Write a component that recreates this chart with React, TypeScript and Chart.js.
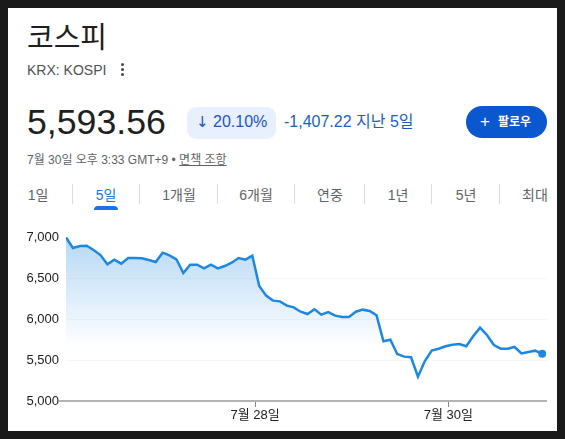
import React, { useEffect, useRef } from "react";
import { Chart, registerables } from "chart.js";

Chart.register(...registerables);

const prices = [
  6996, 6866, 6890, 6894, 6841, 6780, 6667, 6724, 6675, 6744, 6744, 6740, 6720, 6695, 6809, 6776, 6728, 6561,
  6663, 6663, 6618, 6663, 6618, 6646, 6687, 6744, 6724, 6772, 6402, 6285, 6224, 6215, 6163, 6142, 6089, 6061,
  6118, 6053, 6085, 6041, 6024, 6024, 6089, 6114, 6098, 6045, 5728, 5748, 5573, 5541, 5533, 5297, 5488, 5614,
  5638, 5667, 5687, 5695, 5667, 5789, 5894, 5805, 5683, 5638, 5638, 5659, 5581, 5598, 5614, 5575,
];
const xTickPositions = [27.4, 55.4];
const xTickLabels = ["7월 28일", "7월 30일"];
const tabs = ["1일", "5일", "1개월", "6개월", "연중", "1년", "5년", "최대"];
const tabCenters = [38, 106, 179, 256, 330, 398, 466, 535];
const tabSeparators = [72, 139, 217, 294, 364, 431, 499];

const FONT = '"Liberation Sans", "Noto Sans CJK KR", sans-serif';

function text(
  content: React.ReactNode,
  left: number,
  centerY: number,
  size: number,
  color: string,
  extra: React.CSSProperties = {},
) {
  return (
    <div
      style={{
        position: "absolute",
        left,
        top: centerY - 20,
        height: 40,
        lineHeight: "40px",
        fontSize: size,
        color,
        whiteSpace: "nowrap",
        ...extra,
      }}
    >
      {content}
    </div>
  );
}

export default function App() {
  const ref = useRef<HTMLCanvasElement>(null);

  useEffect(() => {
    const canvas = ref.current!;
    const chart = new Chart(canvas, {
      type: "line",
      data: {
        datasets: [
          {
            data: prices.map((y, x) => ({ x, y })),
            borderColor: "#1e88e0",
            borderWidth: 2.5,
            tension: 0,
            fill: "start",
            backgroundColor: (c: any) => {
              const g = c.chart.ctx.createLinearGradient(0, 12, 0, 122);
              g.addColorStop(0, "rgba(30,136,229,0.33)");
              g.addColorStop(1, "rgba(30,136,229,0)");
              return g;
            },
            pointRadius: (c: any) => (c.dataIndex === prices.length - 1 ? 4 : 0),
            pointBackgroundColor: "#1e88e0",
            pointBorderWidth: 0,
          },
        ],
      },
      options: {
        responsive: false,
        animation: false,
        layout: { padding: { left: 0, right: 10, top: 12, bottom: 0 } },
        plugins: { legend: { display: false }, tooltip: { enabled: false } },
        scales: {
          x: {
            type: "linear",
            min: 0,
            max: 69.7,
            border: { display: false },
            grid: { drawOnChartArea: false, color: "#888888", tickLength: 6 },
            afterBuildTicks: (s: any) => {
              s.ticks = xTickPositions.map((value) => ({ value }));
            },
            afterFit: (s: any) => {
              s.height = 30;
            },
            ticks: {
              autoSkip: false,
              maxRotation: 0,
              padding: 1,
              color: "#202124",
              font: { family: FONT, size: 13 },
              callback: (v: any) => xTickLabels[xTickPositions.indexOf(v)],
            },
          },
          y: {
            min: 5000,
            max: 7000,
            border: { display: false },
            afterFit: (s: any) => {
              s.width = 58;
            },
            grid: {
              tickLength: 7,
              lineWidth: (c: any) => (c.tick.value === 5000 ? 2 : 1),
              color: (c: any) =>
                c.tick.value === 5000 ? "#b4b4b4" : c.tick.value === 7000 ? "rgba(0,0,0,0)" : "#f6f6f6",
              tickColor: (c: any) => (c.tick.value === 5000 ? "#b4b4b4" : "rgba(0,0,0,0)"),
            },
            ticks: {
              stepSize: 500,
              padding: 0,
              color: "#202124",
              font: { family: FONT, size: 13 },
              callback: (v: any) => Number(v).toLocaleString("en-US"),
            },
          },
        },
      },
    } as any);
    return () => chart.destroy();
  }, []);

  return (
    <div style={{ position: "fixed", inset: 0, background: "#1a1a1a", fontFamily: FONT, overflow: "hidden" }}>
      <div style={{ position: "absolute", left: 8, top: 8, width: 549, height: 423, background: "#ffffff" }} />
      {text("코스피", 27, 38, 29, "#1f1f1f")}
      {text("KRX: KOSPI", 27, 70, 14, "#4f5256")}
      {[64, 69, 74].map((y) => (
        <div
          key={y}
          style={{ position: "absolute", left: 120.5, top: y - 1, width: 3, height: 3, borderRadius: 2, background: "#444746" }}
        />
      ))}
      {text("5,593.56", 27, 122, 35.7, "#1f1f1f")}
      <div style={{ position: "absolute", left: 187, top: 107, width: 89, height: 32, borderRadius: 9, background: "#e8f0fe" }} />
      {text("↓", 196, 122, 15, "#1a56c4", { fontFamily: '"DejaVu Sans", sans-serif' })}
      {text("20.10%", 213, 122, 16, "#1a56c4")}
      {text("-1,407.22 지난 5일", 284, 122, 16, "#1a5fc0")}
      <div style={{ position: "absolute", left: 466, top: 106, width: 81, height: 32, borderRadius: 16, background: "#0b57d0" }} />
      {text("+", 480, 121.5, 17, "#ffffff")}
      {text("팔로우", 498, 122, 12, "#ffffff", { fontWeight: 700 })}
      {text(
        <>
          7월 30일 오후 3:33 GMT+9 • <span style={{ textDecoration: "underline" }}>면책 조항</span>
        </>,
        27,
        160,
        12,
        "#5f6368",
      )}
      {tabs.map((t, i) => (
        <div
          key={t}
          style={{
            position: "absolute",
            left: tabCenters[i] - 30,
            width: 60,
            top: 175,
            height: 40,
            lineHeight: "40px",
            textAlign: "center",
            fontSize: 14,
            color: i === 1 ? "#1a73e8" : "#5f6368",
          }}
        >
          {t}
        </div>
      ))}
      {tabSeparators.map((x) => (
        <div key={x} style={{ position: "absolute", left: x, top: 184, width: 1, height: 20, background: "#dadce0" }} />
      ))}
      <div
        style={{ position: "absolute", left: 94, top: 206, width: 24, height: 4, background: "#1a73e8", borderRadius: "4px 4px 0 0" }}
      />
      <canvas ref={ref} width={549} height={206} style={{ position: "absolute", left: 8, top: 225, display: "block" }} />
    </div>
  );
}
